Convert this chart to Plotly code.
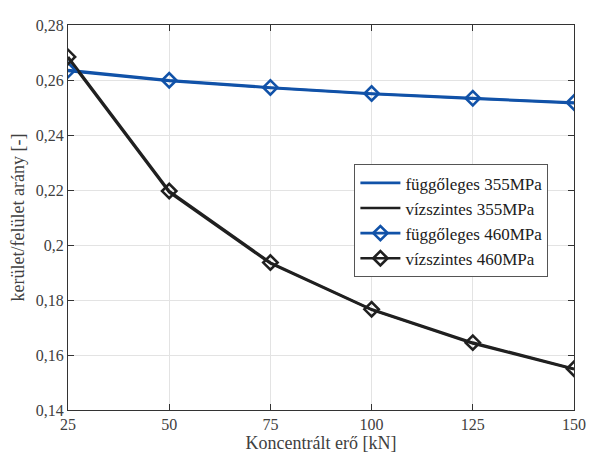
import plotly.graph_objects as go

x_vals = [25, 50, 75, 100, 125, 150]
fugg_355 = [0.2633, 0.2597, 0.2571, 0.2549, 0.2532, 0.2516]
vizs_355 = [0.2680, 0.2192, 0.1933, 0.1764, 0.1642, 0.1548]
fugg_460 = [0.2636, 0.2599, 0.2573, 0.2551, 0.2534, 0.2518]
vizs_460 = [0.2684, 0.2196, 0.1936, 0.1766, 0.1645, 0.1550]
names = ["függőleges 355MPa", "vízszintes 355MPa", "függőleges 460MPa", "vízszintes 460MPa"]
y_ticks = [0.14, 0.16, 0.18, 0.2, 0.22, 0.24, 0.26, 0.28]

blue = "#1152A8"
black = "#202020"
serif = "Liberation Serif, Times New Roman, serif"

fig = go.Figure()
fig.add_trace(go.Scatter(x=x_vals, y=fugg_355, mode="lines", name=names[0],
                         line=dict(color=blue, width=2.6)))
fig.add_trace(go.Scatter(x=x_vals, y=vizs_355, mode="lines", name=names[1],
                         line=dict(color=black, width=2.6)))
fig.add_trace(go.Scatter(x=x_vals, y=fugg_460, mode="lines+markers", name=names[2],
                         line=dict(color=blue, width=2.6),
                         marker=dict(symbol="diamond-open", size=11, color=blue,
                                     line=dict(width=2.6, color=blue))))
fig.add_trace(go.Scatter(x=x_vals, y=vizs_460, mode="lines+markers", name=names[3],
                         line=dict(color=black, width=2.6),
                         marker=dict(symbol="diamond-open", size=11, color=black,
                                     line=dict(width=2.6, color=black))))

axis_common = dict(showline=True, linecolor="#333333", linewidth=1.2, mirror="ticks",
                   ticks="inside", ticklen=6, tickcolor="#333333",
                   showgrid=True, gridcolor="#E3E3E3", gridwidth=1, zeroline=False,
                   tickfont=dict(family=serif, size=16, color="#404040"))

fig.update_layout(
    width=588, height=453,
    paper_bgcolor="white", plot_bgcolor="white",
    separators=", ",
    margin=dict(l=60, r=22, t=9, b=51),
    font=dict(family=serif, size=16, color="#404040"),
    xaxis=dict(range=[25, 150], tickvals=x_vals,
               title=dict(text="Koncentrált erő [kN]", standoff=4,
                          font=dict(family=serif, size=18, color="#404040")),
               **axis_common),
    yaxis=dict(range=[0.14, 0.28], tickvals=y_ticks,
               title=dict(text="kerület/felület arány [-]", standoff=6,
                          font=dict(family=serif, size=18, color="#404040")),
               **axis_common),
    legend=dict(x=0.566, y=0.638, xanchor="left", yanchor="top",
                bgcolor="white", bordercolor="#555555", borderwidth=1,
                font=dict(family=serif, size=17, color="#202020"),
                tracegroupgap=0, itemwidth=40),
    showlegend=True,
)

fig.write_html("out.html")
